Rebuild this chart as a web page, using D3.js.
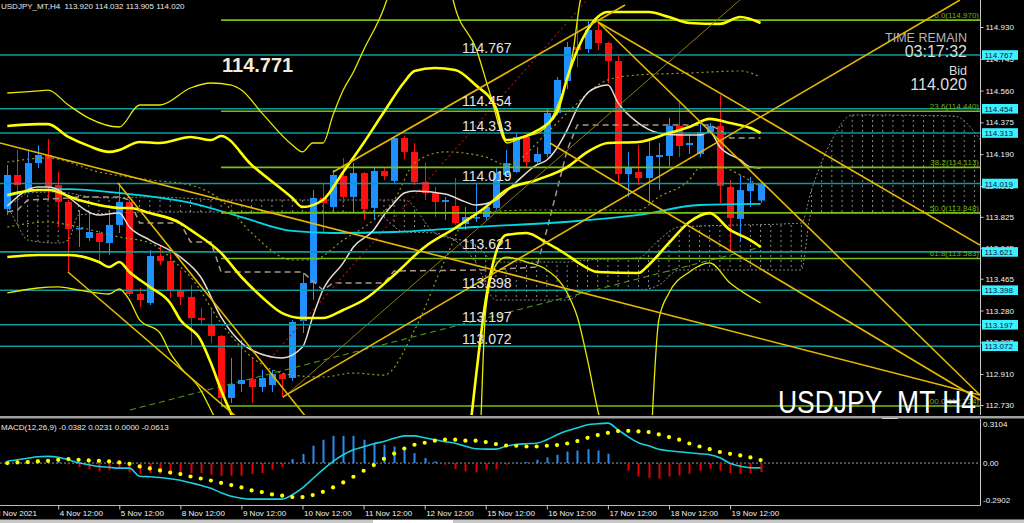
<!DOCTYPE html>
<html><head><meta charset="utf-8">
<script src="https://cdnjs.cloudflare.com/ajax/libs/d3/7.8.5/d3.min.js"></script>
<style>body{margin:0;background:#000;overflow:hidden}svg{display:block}text{font-family:"Liberation Sans",Arial,sans-serif}</style>
</head><body><svg id="c" width="1024" height="523"></svg>
<script>
// ---------------- DATA ----------------
const open=[113.871,114.069,113.981,114.138,114.185,114.010,113.912,113.754,113.702,113.731,113.673,113.778,113.912,113.376,113.324,113.597,113.568,113.394,113.359,113.236,113.196,113.132,112.771,112.852,112.881,112.835,112.846,112.910,112.887,113.219,113.440,113.935,113.882,114.063,113.941,114.080,113.877,114.092,114.034,114.284,114.203,114.028,113.964,113.912,113.888,113.783,113.818,113.824,113.877,114.069,114.086,114.290,114.144,114.191,114.430,114.616,114.814,114.802,114.913,114.837,114.732,114.074,114.086,114.051,114.173,114.179,114.354,114.243,114.191,114.319,114.354,113.999,113.813,113.975,113.920];
const high=[114.127,114.214,114.214,114.243,114.278,114.086,113.923,113.865,113.853,113.743,113.865,114.010,113.923,113.411,113.632,113.661,113.632,113.516,113.428,113.295,113.295,113.137,113.004,113.108,113.004,112.934,112.934,112.916,113.225,113.498,113.981,114.022,114.098,114.168,114.138,114.086,114.109,114.115,114.290,114.296,114.255,114.138,113.999,113.941,114.051,113.882,114.022,113.906,114.109,114.214,114.313,114.313,114.232,114.459,114.639,114.843,114.959,114.970,114.959,114.843,114.767,114.203,114.243,114.272,114.255,114.400,114.488,114.301,114.371,114.371,114.534,114.040,114.069,114.057,114.032];
const low=[113.836,113.789,113.964,114.109,113.923,113.766,113.504,113.650,113.685,113.557,113.603,113.731,113.364,113.300,113.312,113.545,113.353,113.312,113.079,113.196,113.091,112.724,112.742,112.806,112.742,112.806,112.806,112.777,112.870,113.149,113.341,113.737,113.853,113.906,113.865,113.807,113.807,114.040,114.022,114.162,114.010,113.923,113.824,113.807,113.778,113.749,113.795,113.807,113.865,114.057,114.080,114.109,114.127,114.173,114.418,114.569,114.697,114.779,114.796,114.604,114.010,113.941,114.010,113.906,113.981,114.121,114.173,114.191,114.173,114.307,113.906,113.615,113.679,113.882,113.905];
const close=[114.069,114.010,114.138,114.185,113.999,113.912,113.754,113.760,113.737,113.679,113.778,113.912,113.376,113.341,113.597,113.568,113.394,113.359,113.236,113.225,113.132,112.771,112.852,112.876,112.835,112.887,112.910,112.881,113.213,113.440,113.935,113.906,114.069,113.941,114.080,113.871,114.092,114.063,114.284,114.203,114.028,113.964,113.912,113.923,113.789,113.824,113.824,113.882,114.080,114.138,114.290,114.144,114.191,114.430,114.622,114.814,114.796,114.913,114.837,114.732,114.074,114.115,114.051,114.179,114.185,114.354,114.237,114.255,114.319,114.354,114.005,113.818,113.981,114.022,114.020];

const priceTicks=[114.930,114.745,114.560,114.375,114.190,114.005,113.825,113.645,113.465,113.280,113.095,112.910,112.730];
const timeTickBars=[-1.25,5,11,17,23,29,35,41,47,53,59,65,71];
const timeTickLabels=["3 Nov 2021","4 Nov 12:00","5 Nov 12:00","8 Nov 12:00","9 Nov 12:00","10 Nov 12:00","11 Nov 12:00","12 Nov 12:00","15 Nov 12:00","16 Nov 12:00","17 Nov 12:00","18 Nov 12:00","19 Nov 12:00"];

const cyanLevels=[114.767,114.454,114.313,114.019,113.621,113.398,113.197,113.072];
const fibLevels=[114.970,114.440,114.113,113.848,113.583,112.724];
const fibNames=["0.0","23.6","38.2","50.0","61.8","100.0"];
const fibStartBar=21;

// overlays: [bar, price]
const maSlow=[[0,113.946],[3,113.981],[6,113.987],[11,113.964],[18,113.906],[23,113.824],[28,113.743],[32,113.731],[38,113.737],[46,113.766],[56,113.801],[62,113.836],[68,113.894],[74,113.900]];
const maFast=[[0,113.888],[3,113.999],[4,113.999],[9,113.836],[11,113.847],[12,113.766],[14,113.690],[17,113.591],[19,113.475],[21,113.242],[24,113.050],[27,113.004],[29,113.067],[30,113.242],[31,113.399],[33,113.557],[34,113.650],[36,113.749],[37,113.836],[38,113.906],[39,113.964],[40,113.975],[43,113.958],[45,113.912],[46,113.894],[48,113.923],[50,114.028],[52,114.127],[53,114.156],[54,114.226],[55,114.331],[56,114.459],[57,114.546],[58,114.581],[59,114.592],[60,114.488],[62,114.371],[64,114.313],[66,114.301],[68,114.301],[69,114.319],[70,114.232],[72,114.156],[73,114.115],[74,114.109]];
const kijun=[[0,113.853],[1,113.865],[2,113.923],[6,113.935],[7,113.941],[11,113.941],[12,113.923],[13,113.789],[17,113.789],[18,113.679],[20,113.679],[21,113.504],[29,113.504],[31,113.399],[32,113.440],[37,113.440],[38,113.510],[47,113.516],[52,113.533],[53,113.749],[55,114.214],[56,114.360],[69,114.360],[70,114.331],[71,114.284],[74,114.284]];
const dotUpper=[[0,114.144],[4,114.168],[9,114.086],[14,114.040],[18,114.010],[21,113.923],[24,113.731],[28,113.574],[30,113.574],[33,113.690],[36,113.807],[38,113.923],[40,114.138],[43,114.203],[47,114.173],[49,114.127],[53,114.313],[55,114.430],[59,114.622],[62,114.651],[67,114.662],[72,114.674],[74,114.639]];
const dotLower=[[0,113.766],[4,113.795],[6,113.778],[11,113.708],[14,113.673],[17,113.533],[18,113.475],[21,113.207],[24,113.009],[28,112.904],[31,112.893],[34,112.916],[37,112.904],[40,113.166],[43,113.574],[45,113.807],[47,113.853],[52,113.865],[62,113.865],[64,113.941],[67,114.040],[68,114.109],[70,114.115],[72,114.069],[74,113.999]];
const bbUpper=[[0,114.354],[3,114.365],[4,114.365],[6,114.290],[8,114.238],[10,114.203],[11,114.214],[13,114.261],[15,114.255],[18,114.290],[20,114.272],[21,114.296],[24,114.127],[28,113.935],[29,113.882],[31,113.923],[33,114.086],[35,114.255],[37,114.435],[39,114.610],[40,114.674],[42,114.691],[44,114.680],[46,114.592],[48,114.459],[49,114.272],[51,114.296],[52,114.325],[54,114.435],[55,114.633],[56,114.796],[57,114.913],[58,114.988],[59,115.017],[63,115.017],[65,114.988],[67,114.953],[70,114.948],[72,114.988],[74,114.953]];
const bbMid=[[0,113.952],[3,113.981],[4,113.981],[7,113.923],[11,113.877],[12,113.877],[14,113.847],[17,113.789],[18,113.749],[21,113.615],[23,113.475],[25,113.359],[27,113.265],[29,113.236],[31,113.236],[33,113.283],[35,113.341],[38,113.487],[41,113.650],[44,113.760],[47,113.882],[49,113.981],[52,114.040],[55,114.115],[57,114.203],[59,114.255],[62,114.261],[65,114.313],[67,114.348],[69,114.395],[71,114.371],[73,114.342],[74,114.313]];
const bbLowerA=[[0,113.591],[3,113.603],[6,113.603],[9,113.562],[10,113.533],[11,113.562],[12,113.504],[14,113.417],[16,113.324],[17,113.225],[19,113.108],[20,112.974],[21,112.817],[22.5,112.613]];
const bbLowerB=[[45.5,112.613],[46,112.875],[47,113.341],[48,113.615],[49,113.719],[51,113.731],[53,113.673],[55,113.603],[56,113.562],[58,113.504],[62,113.498],[63,113.545],[65,113.673],[67,113.795],[69,113.847],[71,113.749],[73,113.690],[74,113.650]];
const wideUpperA=[[0,114.546],[3,114.558],[4,114.563],[6,114.476],[8,114.400],[11,114.348],[13,114.476],[15,114.476],[18,114.575],[20,114.604],[22,114.592],[23,114.563],[25,114.430],[28,114.243],[29,114.203],[30,114.255],[31,114.255],[32,114.418],[33,114.563],[34,114.668],[35,114.796],[37,115.041],[37.6,115.145]];
const wideUpperB=[[43.6,115.145],[43.8,115.087],[46.1,114.796],[47.4,114.546],[49.1,114.255],[50.6,114.290],[52.3,114.319],[54,114.464],[55.6,114.796],[56.3,115.087],[56.6,115.145]];
const wideLowerA=[[0,113.382],[3,113.411],[5,113.417],[7,113.399],[10,113.376],[11,113.405],[12,113.341],[13,113.225],[15,113.149],[16,113.033],[17,112.951],[19,112.817],[20,112.701],[21,112.584]];
const wideLowerB=[[46.5,112.584],[47,113.283],[48,113.545],[49,113.591],[51,113.562],[53,113.516],[55,113.382],[56,113.242],[57,112.992],[58,112.701],[58.5,112.584]];
const wideLowerC=[[63.3,112.584],[64,113.225],[65,113.382],[67,113.504],[69,113.557],[71,113.440],[73,113.359],[74,113.324]];
const cloudBars=[0,1,2,5,6,7,10,14,22,30,36,39,42,46,48,55,57,62,64,66,78,79,81,83,93,95.6];
const spanA=[113.894,113.923,113.964,113.970,113.964,113.952,113.935,113.941,113.923,113.923,113.923,113.923,113.731,113.661,113.562,113.562,113.574,113.586,113.690,113.766,113.789,113.981,114.272,114.418,114.412,114.272];
const spanB=[113.894,113.778,113.690,113.673,113.690,113.836,113.847,113.853,113.853,113.853,113.853,113.737,113.731,113.562,113.341,113.341,113.399,113.399,113.428,113.516,113.516,113.847,113.847,113.847,113.847,113.847];
// trend lines: [bar1, price1, bar2, price2]
const trendLines=[[-0.72,114.255,95.55,112.788],[10.87,114.022,29.74,112.631],[5.96,113.504,22.86,112.643],[27.08,112.777,93.58,115.087],[32.0,114.086,60.68,115.058],[58.03,114.959,95.55,113.661],[58.03,114.959,95.55,112.788],[53.31,114.255,95.55,112.759]];
const dimLine=[27.08,112.771,71.97,115.087];
const redDotLine=[25.8,112.998,56.94,115.087];
const greenDashLine=[12.05,112.701,74.1,113.650];

// MACD
const macdMain=[0.014,0.026,0.038,0.050,0.053,0.046,0.026,0.002,-0.014,-0.027,-0.033,-0.040,-0.040,-0.105,-0.109,-0.115,-0.125,-0.137,-0.157,-0.177,-0.201,-0.236,-0.264,-0.280,-0.287,-0.287,-0.287,-0.287,-0.252,-0.197,-0.125,-0.053,0.013,0.066,0.106,0.130,0.154,0.172,0.197,0.217,0.217,0.201,0.186,0.170,0.158,0.134,0.114,0.111,0.111,0.134,0.148,0.154,0.158,0.186,0.225,0.257,0.281,0.305,0.313,0.318,0.265,0.209,0.162,0.138,0.110,0.098,0.090,0.082,0.074,0.066,0.042,-0.002,-0.025,-0.037,-0.038];
const macdSignal=[0.000,0.005,0.008,0.013,0.018,0.026,0.032,0.026,0.021,0.018,0.013,0.005,-0.006,-0.027,-0.043,-0.059,-0.075,-0.088,-0.107,-0.123,-0.139,-0.157,-0.175,-0.194,-0.218,-0.231,-0.250,-0.260,-0.271,-0.271,-0.255,-0.229,-0.194,-0.154,-0.109,-0.061,-0.016,0.034,0.076,0.116,0.146,0.162,0.178,0.186,0.186,0.178,0.178,0.167,0.151,0.140,0.138,0.132,0.132,0.138,0.143,0.156,0.175,0.201,0.223,0.241,0.255,0.257,0.252,0.247,0.228,0.207,0.186,0.156,0.132,0.111,0.088,0.074,0.061,0.045,0.024];
const macdHist=[0.008,0.012,0.020,0.030,0.025,0.010,-0.010,-0.032,-0.048,-0.066,-0.058,-0.048,-0.074,-0.085,-0.080,-0.085,-0.093,-0.080,-0.080,-0.080,-0.093,-0.101,-0.101,-0.101,-0.088,-0.080,-0.053,-0.032,0.032,0.072,0.138,0.186,0.217,0.217,0.217,0.186,0.159,0.146,0.132,0.111,0.080,0.040,0.013,-0.013,-0.048,-0.066,-0.074,-0.053,-0.048,-0.013,0.005,0.008,0.026,0.045,0.066,0.092,0.100,0.111,0.100,0.074,0.002,-0.061,-0.107,-0.119,-0.125,-0.107,-0.099,-0.085,-0.061,-0.045,-0.061,-0.080,-0.085,-0.080,-0.072];
const macdTicks=[0.3104,0,-0.2902];
const macdTickLabels=["0.3104","0.00","-0.2902"];

// ---------------- DRAW ----------------
const PR=980, MAINB=415;
const svg=d3.select("#c");
const x=d3.scaleLinear().domain([0,74]).range([7.3,760.6]);
const y=d3.scaleLinear().domain([112.730,114.930]).range([405,27]);
const ym=d3.scaleLinear().domain([-0.2902,0.3104]).range([499.5,424.1]);
svg.append("rect").attr("width",1024).attr("height",523).attr("fill","#000");
const defs=svg.append("defs");
defs.append("clipPath").attr("id","cm").append("rect").attr("x",0).attr("y",0).attr("width",PR).attr("height",MAINB);
defs.append("clipPath").attr("id","cd").append("rect").attr("x",0).attr("y",419).attr("width",PR).attr("height",86);
const step=x(1)-x(0);
const pat=defs.append("pattern").attr("id","hatch").attr("patternUnits","userSpaceOnUse").attr("width",step).attr("height",5).attr("x",x(0)-0.5);
pat.append("rect").attr("x",0).attr("y",0).attr("width",1).attr("height",2).attr("fill","#8a8a8a");

const g=svg.append("g").attr("clip-path","url(#cm)");
const lineP=(curve)=>d3.line().x(d=>x(d[0])).y(d=>y(d[1])).curve(curve||d3.curveMonotoneX);

// cloud
const cloud=cloudBars.map((b,i)=>({b,a:spanA[i],c:spanB[i]}));
g.append("path").datum(cloud).attr("d",d3.area().x(d=>x(d.b)).y0(d=>y(d.a)).y1(d=>y(d.c)).curve(d3.curveMonotoneX)).attr("fill","url(#hatch)");
g.append("path").datum(cloud.map(d=>[d.b,d.a])).attr("d",lineP()).attr("fill","none").attr("stroke","#8a8a8a").attr("stroke-width",1).attr("stroke-dasharray","2,2");
g.append("path").datum(cloud.map(d=>[d.b,d.c])).attr("d",lineP()).attr("fill","none").attr("stroke","#8a8a8a").attr("stroke-width",1).attr("stroke-dasharray","2,2");

// candles
const idx=d3.range(open.length);
g.selectAll(".wk").data(idx).join("line").attr("x1",i=>Math.round(x(i))+0.5).attr("x2",i=>Math.round(x(i))+0.5)
 .attr("y1",i=>y(high[i])).attr("y2",i=>y(low[i])).attr("stroke",i=>close[i]>=open[i]?"#1e90ff":"#ff1010").attr("stroke-width",1);
g.selectAll(".bd").data(idx).join("rect").attr("x",i=>Math.round(x(i))-3).attr("width",7)
 .attr("y",i=>y(Math.max(open[i],close[i]))).attr("height",i=>Math.max(1.5,Math.abs(y(open[i])-y(close[i]))))
 .attr("fill",i=>close[i]>=open[i]?"#1e90ff":"#ff1010");

// dotted lines
[dotUpper,dotLower].forEach(d=>g.append("path").datum(d).attr("d",lineP()).attr("fill","none").attr("stroke","#9a9a1c").attr("stroke-width",1.2).attr("stroke-dasharray","2,3"));
// kijun dashed
g.append("path").datum(kijun).attr("d",lineP(d3.curveLinear)).attr("fill","none").attr("stroke","#a89888").attr("stroke-width",1.5).attr("stroke-dasharray","6,4");
// green dashed
g.append("line").attr("x1",x(greenDashLine[0])).attr("y1",y(greenDashLine[1])).attr("x2",x(greenDashLine[2])).attr("y2",y(greenDashLine[3])).attr("stroke","#4f9a18").attr("stroke-width",1.2).attr("stroke-dasharray","6,4");
// red dotted
g.append("line").attr("x1",x(redDotLine[0])).attr("y1",y(redDotLine[1])).attr("x2",x(redDotLine[2])).attr("y2",y(redDotLine[3])).attr("stroke","#a01010").attr("stroke-width",1.2).attr("stroke-dasharray","2,3");

// MAs
g.append("path").datum(maSlow).attr("d",lineP()).attr("fill","none").attr("stroke","#00d8e6").attr("stroke-width",1.8);
g.append("path").datum(maFast).attr("d",lineP()).attr("fill","none").attr("stroke","#eadbd2").attr("stroke-width",1.5);

// horizontal lines
g.selectAll(".cy").data(cyanLevels).join("line").attr("x1",0).attr("x2",PR).attr("y1",d=>y(d)).attr("y2",d=>y(d)).attr("stroke","#0c9a9c").attr("stroke-width",1.6);
g.selectAll(".fb").data(fibLevels).join("line").attr("x1",x(fibStartBar)).attr("x2",PR).attr("y1",d=>y(d)).attr("y2",d=>y(d)).attr("stroke","#76c012").attr("stroke-width",1.6);

// bands
[wideUpperA,wideUpperB,wideLowerA,wideLowerB,wideLowerC].forEach(d=>g.append("path").datum(d).attr("d",lineP()).attr("fill","none").attr("stroke","#e8e800").attr("stroke-width",1.3));
[bbUpper,bbMid,bbLowerA,bbLowerB].forEach(d=>g.append("path").datum(d).attr("d",lineP()).attr("fill","none").attr("stroke","#ffff00").attr("stroke-width",2.6));

// trend lines
g.append("line").attr("x1",x(dimLine[0])).attr("y1",y(dimLine[1])).attr("x2",x(dimLine[2])).attr("y2",y(dimLine[3])).attr("stroke","#8a7a10").attr("stroke-width",1);
g.selectAll(".tl").data(trendLines).join("line").attr("x1",d=>x(d[0])).attr("y1",d=>y(d[1])).attr("x2",d=>x(d[2])).attr("y2",d=>y(d[3])).attr("stroke","#e8b800").attr("stroke-width",1.6);

// in-chart labels
g.selectAll(".cl").data(cyanLevels).join("text").attr("x",462).attr("y",d=>y(d)-2.5).attr("fill","#e4e4e4").attr("font-size",14).text(d=>d.toFixed(3));
g.selectAll(".fl").data(fibLevels).join("text").attr("x",PR-1).attr("y",d=>y(d)-2).attr("text-anchor","end").attr("fill","#6fb010").attr("font-size",8).text((d,i)=>fibNames[i]+"("+d.toFixed(3)+")");
g.append("text").attr("x",222).attr("y",72).attr("fill","#f6e9d8").attr("font-size",20).attr("font-weight","bold").text("114.771");
const tr=[["TIME REMAIN",42,12.5,"#b4b4b4"],["03:17:32",57,16,"#dcdcdc"],["Bid",75,12.5,"#dcdcdc"],["114.020",90,16,"#dcdcdc"]];
tr.forEach(t=>svg.append("text").attr("x",967).attr("y",t[1]).attr("text-anchor","end").attr("font-size",t[2]).attr("fill",t[3]).text(t[0]));
svg.append("text").attr("x",778).attr("y",413).attr("font-size",31).attr("fill","#ffffff").attr("textLength",198).attr("lengthAdjust","spacingAndGlyphs").text("USDJPY_MT H4");

// header
svg.append("text").attr("x",1).attr("y",9).attr("font-size",8).attr("fill","#e8e8e8").attr("xml:space","preserve").text("USDJPY_MT,H4  113.920 114.032 113.905 114.020");

// right price axis
const ax=svg.append("g").attr("transform",`translate(${PR+0.5},0)`).call(d3.axisRight(y).tickValues(priceTicks).tickFormat(d3.format(".3f")).tickSize(3).tickPadding(2));
ax.select(".domain").attr("stroke","#c8c8c8").attr("d","M0,0V"+MAINB);
ax.selectAll(".tick line").attr("stroke","#c8c8c8");
ax.selectAll(".tick text").attr("fill","#f0f0f0").attr("font-size",8).attr("font-family","Liberation Sans,Arial,sans-serif");
// cyan price boxes
const bx=svg.append("g");
bx.selectAll("rect").data(cyanLevels).join("rect").attr("x",PR+2).attr("y",d=>y(d)-4.8).attr("width",36).attr("height",9.6).attr("fill","#3df0ff");
bx.selectAll("text").data(cyanLevels).join("text").attr("x",PR+4.5).attr("y",d=>y(d)+3).attr("font-size",8).attr("fill","#06203a").text(d=>d.toFixed(3));

// separators
svg.append("rect").attr("x",0).attr("y",416).attr("width",1024).attr("height",2.5).attr("fill","#a0a0a0");
svg.append("line").attr("x1",0).attr("x2",PR+0.5).attr("y1",505.5).attr("y2",505.5).attr("stroke","#b8b8b8");
svg.append("line").attr("x1",PR+0.5).attr("x2",PR+0.5).attr("y1",419).attr("y2",505.5).attr("stroke","#c8c8c8");

// MACD panel
const gm=svg.append("g").attr("clip-path","url(#cd)");
gm.append("line").attr("x1",0).attr("x2",PR).attr("y1",ym(0)).attr("y2",ym(0)).attr("stroke","#9a9a9a").attr("stroke-dasharray","2,2");
gm.selectAll(".hb").data(idx).join("rect").attr("x",i=>Math.round(x(i))-0.5).attr("width",2)
 .attr("y",i=>Math.min(ym(0),ym(macdHist[i]))).attr("height",i=>Math.abs(ym(macdHist[i])-ym(0)))
 .attr("fill",i=>macdHist[i]>=0?"#2a8cf0":"#e00000");
gm.append("path").datum(macdMain).attr("d",d3.line().x((d,i)=>x(i)).y(d=>ym(d)).curve(d3.curveMonotoneX)).attr("fill","none").attr("stroke","#18d0e0").attr("stroke-width",1.6);
gm.selectAll(".sg").data(macdSignal).join("circle").attr("cx",(d,i)=>x(i)).attr("cy",d=>ym(d)).attr("r",2.1).attr("fill","#ffff00");
svg.append("text").attr("x",1).attr("y",430).attr("font-size",8).attr("fill","#e8e8e8").attr("xml:space","preserve").text("MACD(12,26,9) -0.0382 0.0231 0.0000 -0.0613");
svg.selectAll(".mt").data(macdTicks).join("text").attr("x",PR+3).attr("y",d=>ym(d)+3).attr("font-size",8).attr("fill","#f0f0f0").text((d,i)=>macdTickLabels[i]);

// time axis
const tx=svg.append("g").attr("transform","translate(0,505.5)").call(d3.axisBottom(x).tickValues(timeTickBars).tickFormat((d,i)=>timeTickLabels[i]).tickSize(4).tickPadding(1));
tx.select(".domain").remove();
tx.selectAll(".tick line").attr("stroke","#c8c8c8");
tx.selectAll(".tick text").attr("text-anchor","start").attr("dx",1).attr("fill","#f0f0f0").attr("font-size",8).attr("font-family","Liberation Sans,Arial,sans-serif");

// window frame strip
svg.append("rect").attr("x",0).attr("y",519.5).attr("width",1024).attr("height",4).attr("fill","#c8c8c8");
svg.append("rect").attr("x",373).attr("y",520).attr("width",80).attr("height",3).attr("fill","#ffffff");
</script></body></html>
